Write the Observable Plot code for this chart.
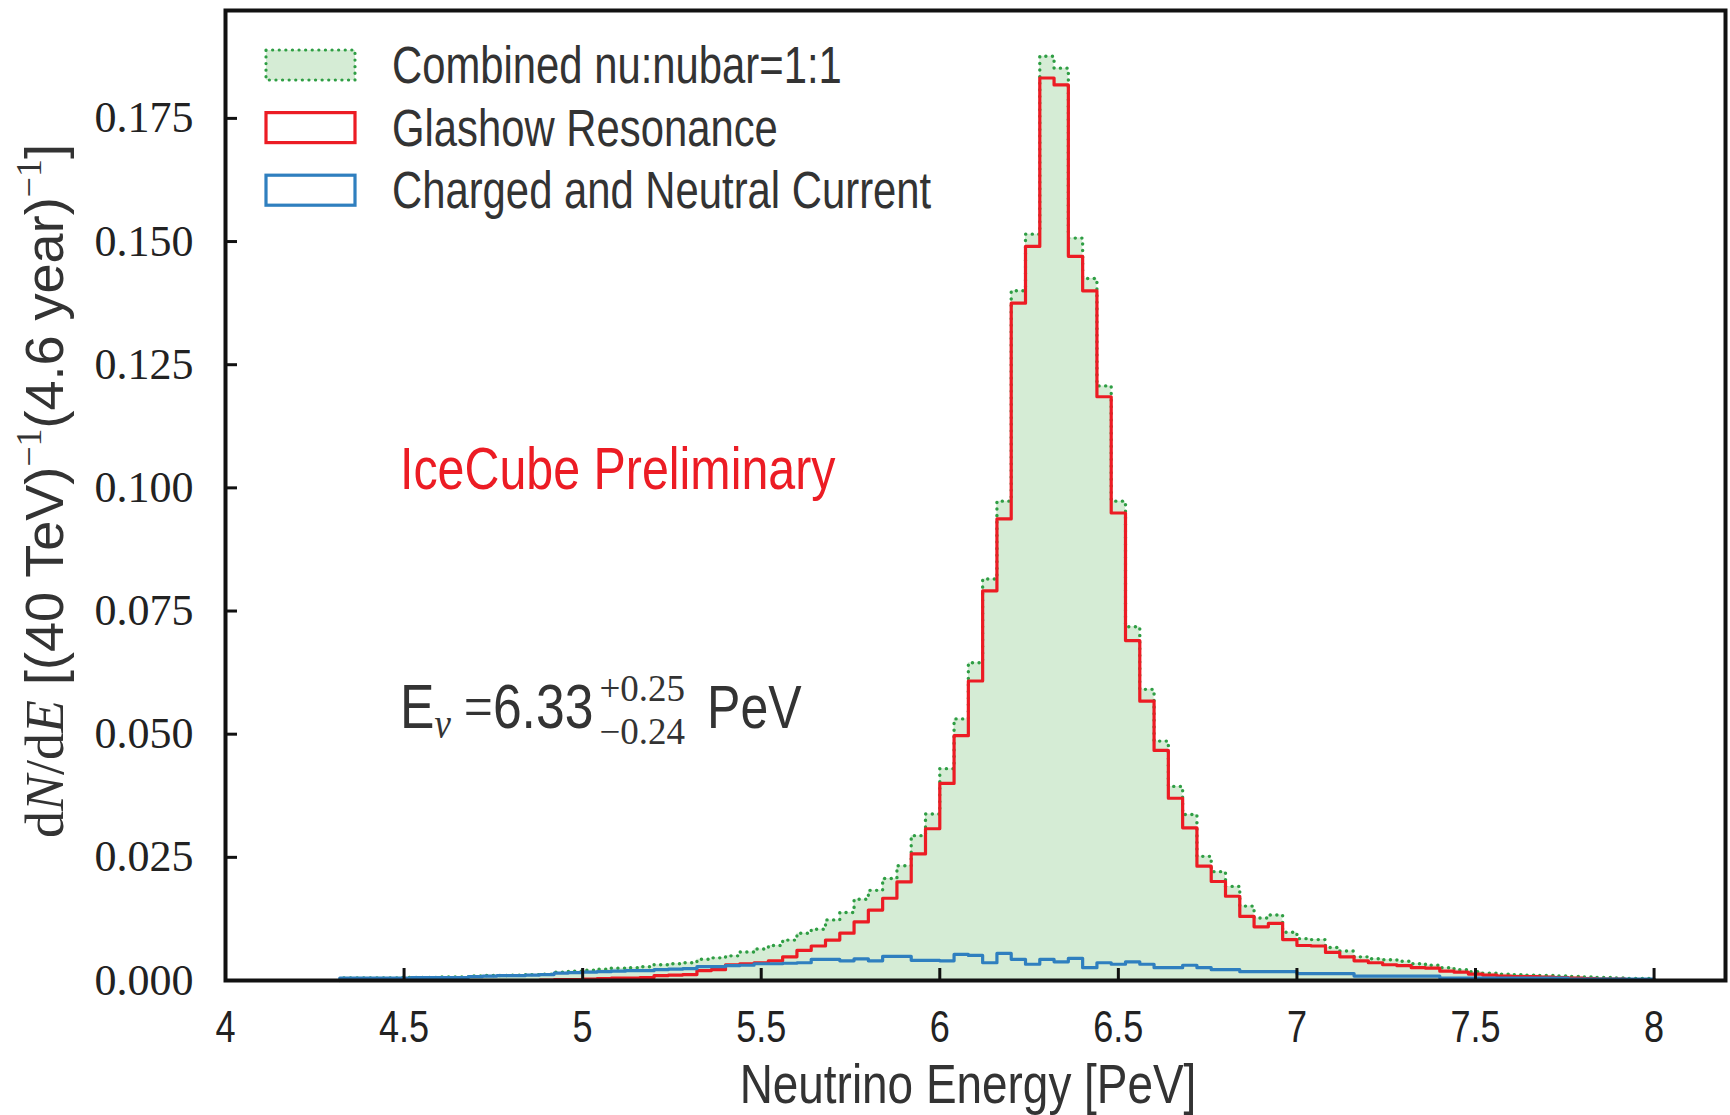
<!DOCTYPE html>
<html>
<head>
<meta charset="utf-8">
<script src="https://cdn.jsdelivr.net/npm/d3@7"></script>
<script src="https://cdn.jsdelivr.net/npm/@observablehq/plot@0.6"></script>
<style>
html, body { margin: 0; padding: 0; background: #fff; }
#chart { width: 1730px; height: 1115px; }
</style>
</head>
<body>
<div id="chart"></div>
<script>
// ---------------- data ----------------
const binEdges = [4.32,4.36,4.40,4.44,4.48,4.52,4.56,4.60,4.64,4.68,4.72,4.76,4.80,4.84,4.88,4.92,4.96,5.00,5.04,5.08,5.12,5.16,5.20,5.24,5.28,5.32,5.36,5.40,5.44,5.48,5.52,5.56,5.60,5.64,5.68,5.72,5.76,5.80,5.84,5.88,5.92,5.96,6.00,6.04,6.08,6.12,6.16,6.20,6.24,6.28,6.32,6.36,6.40,6.44,6.48,6.52,6.56,6.60,6.64,6.68,6.72,6.76,6.80,6.84,6.88,6.92,6.96,7.00,7.04,7.08,7.12,7.16,7.20,7.24,7.28,7.32,7.36,7.40,7.44,7.48,7.52,7.56,7.60,7.64,7.68,7.72,7.76,7.80,7.84,7.88,7.92,7.96,8.00];

// Glashow Resonance
const glashow = [0,0,0,0,0,0,0,0,0,0,0,0,0,0,
  0.0001,
  0.0002,0.0002,0.0003,0.0004,0.0005,0.0005,0.0006,
  0.0010,0.0011,0.0012,
  0.0020,0.0022,
  0.0032,0.0034,0.0036,0.0040,
  0.0048,0.0061,0.0070,0.0082,0.0096,0.0119,0.0143,0.0167,0.0200,
  0.0257,0.0308,0.0400,0.0497,0.0608,0.0791,0.0937,
  0.1375,0.1490,0.1832,0.1818,0.1470,0.1400,0.1185,0.0949,
  0.0690,0.0567,0.0467,0.0370,0.0310,0.0232,0.0201,0.0171,
  0.0130,0.0109,0.0116,0.0083,
  0.0071,0.0070,0.0057,0.0048,
  0.0040,0.0036,0.0032,0.0030,0.0026,0.0025,
  0.0019,0.0017,0.0013,0.0011,0.0009,0.0008,0.0008,0.0007,0.0006,
  0.0005,0.0004,0.0003,0.0003,0.0002,0.0002];

// Charged and Neutral Current
const ccnc = [0.0005,0.0005,0.0005,0.0005,0.0005,0.0006,0.0006,0.0006,0.0006,
  0.0008,0.0009,0.0010,0.0010,0.0011,0.0012,
  0.0015,0.0016,0.0017,0.0018,0.0019,0.0020,0.0020,
  0.0022,0.0023,0.0024,
  0.0028,0.0028,
  0.0030,0.0031,
  0.0034,0.0034,0.0035,
  0.0036,
  0.0043,0.0043,
  0.0040,0.0044,
  0.0040,
  0.0049,0.0049,
  0.0041,0.0041,
  0.0040,
  0.0053,0.0051,0.0036,0.0055,0.0043,0.0033,0.0043,0.0038,0.0045,0.0026,0.0036,0.0033,0.0038,0.0033,
  0.0026,0.0026,
  0.0031,
  0.0026,
  0.0022,0.0022,
  0.0018,0.0018,0.0018,0.0018,
  0.0014,0.0014,0.0014,0.0014,
  0.0009,0.0009,0.0009,0.0009,0.0009,0.0009,
  0.0005,0.0005,0.0005,0.0005,0.0005,0.0005,0.0005,0.0005,0.0005,
  0.0003,0.0003,0.0003,0.0003,0.0003,0.0003];

// Combined nu:nubar=1:1
const combined = [0.0005,0.0005,0.0005,0.0005,0.0006,0.0006,0.0006,0.0007,0.0007,
  0.0009,0.0010,0.0010,0.0011,0.0012,0.0013,
  0.0017,0.0019,0.0021,0.0023,0.0025,0.0026,0.0028,
  0.0032,0.0034,0.0036,
  0.0043,0.0046,
  0.0050,0.0058,0.0064,0.0071,0.0082,
  0.0096,0.0104,0.0123,0.0138,0.0165,0.0183,0.0207,0.0233,
  0.0294,0.0338,0.0430,0.0531,0.0645,0.0815,0.0973,
  0.1400,0.1515,0.1876,0.1852,0.1507,0.1425,0.1207,0.0973,
  0.0718,0.0591,0.0486,0.0394,0.0337,0.0252,0.0221,0.0191,
  0.0151,0.0127,0.0133,0.0098,
  0.0085,0.0083,0.0067,0.0060,
  0.0048,0.0044,0.0042,0.0039,0.0034,0.0031,
  0.0026,0.0022,0.0018,0.0015,0.0013,0.0012,0.0011,0.0010,0.0009,
  0.0008,0.0007,0.0006,0.0005,0.0004,0.0004];

const xTickValues = [4, 4.5, 5, 5.5, 6, 6.5, 7, 7.5, 8];
const xTickLabels = ["4", "4.5", "5", "5.5", "6", "6.5", "7", "7.5", "8"];
const yTickValues = [0, 0.025, 0.05, 0.075, 0.1, 0.125, 0.15, 0.175];
const yTickLabels = ["0.000", "0.025", "0.050", "0.075", "0.100", "0.125", "0.150", "0.175"];
const seriesNames = ["Combined nu:nubar=1:1", "Glashow Resonance", "Charged and Neutral Current"];
const xDomain = [4, 8.2];
const yDomain = [0, 0.1969];

// ---------------- styles ----------------
const GREEN_FILL = "#d5ecd5";
const GREEN = "#2f9e44";
const RED = "#ec1c24";
const BLUE = "#2f7fbf";
const INK = "#222";
const TXT = "#333";
const SANS = "'Liberation Sans', Arial, sans-serif";
const SERIF = "'Liberation Serif', 'DejaVu Serif', serif";
const SQ = 0.82; // horizontal squeeze of the reference's lettering

// histogram outline points for a step-after curve
function stepPoints(values) {
  const pts = [{x: binEdges[0], y: 0}];
  values.forEach((v, i) => pts.push({x: binEdges[i], y: v}));
  pts.push({x: binEdges[values.length], y: 0});
  return pts;
}
const greenPts = stepPoints(combined);
const redPts = stepPoints(glashow);
const bluePts = stepPoints(ccnc);

const W = 1730, H = 1115;
const mL = 225, mR = 5, mT = 10, mB = 135;
const plotW = W - mL - mR, plotH = H - mT - mB;
const tickLen = 12;

const plot = Plot.plot({
  width: W, height: H,
  marginLeft: mL, marginRight: mR, marginTop: mT, marginBottom: mB,
  x: {domain: xDomain},
  y: {domain: yDomain},
  style: {background: "white", overflow: "visible"},
  marks: [
    Plot.areaY(greenPts, {x: "x", y: "y", curve: "step-after", fill: GREEN_FILL}),
    Plot.line(greenPts, {x: "x", y: "y", curve: "step-after", stroke: GREEN, strokeWidth: 3.4,
      strokeDasharray: "0.1,6.5", strokeLinecap: "round"}),
    Plot.line(redPts, {x: "x", y: "y", curve: "step-after", stroke: RED, strokeWidth: 3.2}),
    Plot.line(bluePts, {x: "x", y: "y", curve: "step-after", stroke: BLUE, strokeWidth: 3.2}),
    Plot.tickX(xTickValues, {x: d => d, insetTop: plotH - tickLen, stroke: "#111", strokeWidth: 3}),
    Plot.tickY(yTickValues, {y: d => d, insetRight: plotW - tickLen, stroke: "#111", strokeWidth: 3}),
    Plot.axisX({ticks: xTickValues, tickFormat: d => xTickLabels[xTickValues.indexOf(d)],
      tickSize: 0, tickPadding: 30, fontSize: 44, fontFamily: SANS, fill: INK, label: null}),
    Plot.axisY({ticks: yTickValues, tickFormat: d => yTickLabels[yTickValues.indexOf(d)],
      tickSize: 0, tickPadding: 32, fontSize: 44, fontFamily: SERIF, fill: INK, label: null}),
    Plot.frame({stroke: "#111", strokeWidth: 4})
  ]
});
document.getElementById("chart").appendChild(plot);

const svg = d3.select(plot);

// squeeze the x tick labels horizontally like the reference lettering
svg.selectAll("g[aria-label='x-axis tick label'] text").each(function() {
  const t = d3.select(this);
  t.attr("transform", (t.attr("transform") || "") + ` scale(${SQ},1)`);
});

// helper: horizontally squeezed text
function sqText(x, y, anchor) {
  return svg.append("text")
    .attr("transform", `translate(${x},${y}) scale(${SQ},1)`)
    .attr("text-anchor", anchor || "start");
}

// ---------------- legend ----------------
const legend = [
  {name: seriesNames[0], fill: GREEN_FILL, stroke: GREEN, dash: "0.1,6.5"},
  {name: seriesNames[1], fill: "white", stroke: RED, dash: null},
  {name: seriesNames[2], fill: "white", stroke: BLUE, dash: null}
];
legend.forEach((it, i) => {
  const cy = 65 + i * 62.6;
  const r = svg.append("rect")
    .attr("x", 266).attr("y", cy - 15).attr("width", 89).attr("height", 30)
    .attr("fill", it.fill).attr("stroke", it.stroke).attr("stroke-width", 3.2);
  if (it.dash) r.attr("stroke-dasharray", it.dash).attr("stroke-linecap", "round");
  sqText(392, cy + 18)
    .attr("font-family", SANS).attr("font-size", 51).attr("fill", TXT)
    .text(it.name);
});

// ---------------- annotations ----------------
sqText(400, 489)
  .attr("font-family", SANS).attr("font-size", 59).attr("fill", RED)
  .text("IceCube Preliminary");

const eText = sqText(400, 728)
  .attr("font-family", SANS).attr("font-size", 63).attr("fill", TXT);
eText.append("tspan").text("E");
eText.append("tspan").attr("font-family", SERIF).attr("font-style", "italic")
  .attr("font-size", 45).attr("dy", 10).text("ν");
eText.append("tspan").attr("dy", -10).attr("font-family", SERIF).text(" =");
eText.append("tspan").text("6.33");
const eLen = eText.node().getComputedTextLength() * SQ;
const scriptX = 400 + eLen + 6;
const sup = svg.append("text").attr("x", scriptX).attr("y", 701).attr("text-anchor", "start")
  .attr("font-family", SERIF).attr("font-size", 37).attr("fill", TXT).text("+0.25");
const sub = svg.append("text").attr("x", scriptX).attr("y", 744).attr("text-anchor", "start")
  .attr("font-family", SERIF).attr("font-size", 37).attr("fill", TXT).text("−0.24");
const scriptW = Math.max(sup.node().getComputedTextLength(), sub.node().getComputedTextLength());
sqText(scriptX + scriptW + 22, 728)
  .attr("font-family", SANS).attr("font-size", 61).attr("fill", TXT).text("PeV");

// x-axis title
sqText(968, 1103, "middle")
  .attr("font-family", SANS).attr("font-size", 56).attr("fill", TXT)
  .text("Neutrino Energy [PeV]");

// y-axis title (rotated; lettering not squeezed along its length)
const yl = svg.append("text")
  .attr("transform", "translate(63,491) rotate(-90)")
  .attr("text-anchor", "middle")
  .attr("font-family", SANS).attr("font-size", 54).attr("fill", TXT);
const m = yl.append("tspan").attr("font-family", SERIF);
m.append("tspan").text("d");
m.append("tspan").attr("font-style", "italic").text("N");
m.append("tspan").text("/d");
m.append("tspan").attr("font-style", "italic").text("E");
yl.append("tspan").text(" [(40 TeV)");
yl.append("tspan").attr("font-family", SERIF).attr("font-size", 36).attr("dy", -22).text("−1");
yl.append("tspan").attr("dy", 22).text("(4.6 year)");
yl.append("tspan").attr("font-family", SERIF).attr("font-size", 36).attr("dy", -22).text("−1");
yl.append("tspan").attr("dy", 22).text("]");
</script>
</body>
</html>
